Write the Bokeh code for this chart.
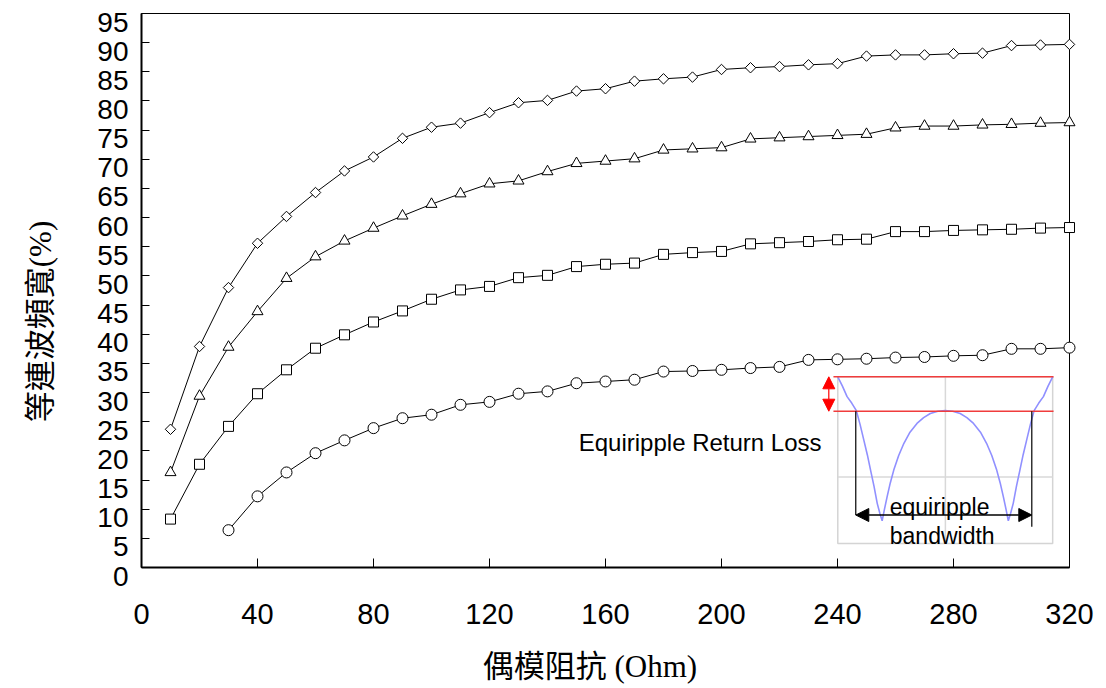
import numpy as np
from bokeh.plotting import figure
from bokeh.models import Range1d, FixedTicker, Arrow, NormalHead
from bokeh.core.properties import value
from bokeh.embed import file_html
from bokeh.resources import INLINE

# ---------------- data ----------------
impedance = [10, 20, 30, 40, 50, 60, 70, 80, 90, 100, 110, 120, 130, 140, 150, 160,
             170, 180, 190, 200, 210, 220, 230, 240, 250, 260, 270, 280, 290, 300, 310, 320]

bw_diamond = [23.7, 37.9, 48.0, 55.6, 60.2, 64.3, 68.0, 70.4, 73.6, 75.5, 76.2, 78.0,
              79.7, 80.1, 81.7, 82.1, 83.4, 83.8, 84.1, 85.4, 85.7, 85.9, 86.2, 86.4,
              87.7, 87.9, 87.9, 88.1, 88.2, 89.5, 89.6, 89.7]

bw_triangle = [16.3, 29.4, 37.8, 43.9, 49.6, 53.3, 56.0, 58.2, 60.3, 62.3, 64.1, 65.8,
               66.3, 67.9, 69.3, 69.7, 70.1, 71.6, 71.8, 72.0, 73.5, 73.7, 73.9, 74.1,
               74.3, 75.4, 75.7, 75.7, 75.9, 76.0, 76.2, 76.3]

bw_square = [8.3, 17.7, 24.2, 29.8, 33.9, 37.6, 39.9, 42.1, 44.0, 46.0, 47.6, 48.2,
             49.7, 50.1, 51.6, 52.0, 52.2, 53.7, 54.0, 54.2, 55.5, 55.7, 55.9, 56.2,
             56.3, 57.6, 57.6, 57.8, 57.9, 58.0, 58.2, 58.3]

bw_circle = [np.nan, np.nan, 6.4, 12.2, 16.3, 19.6, 21.8, 23.9, 25.6, 26.2, 27.9, 28.4,
             29.8, 30.2, 31.6, 31.9, 32.2, 33.6, 33.7, 33.9, 34.2, 34.4, 35.6, 35.7,
             35.8, 36.0, 36.1, 36.3, 36.4, 37.5, 37.5, 37.7]

x_ticks = [0, 40, 80, 120, 160, 200, 240, 280, 320]
y_ticks = list(range(0, 96, 5))
y_tick_labels = [str(t) for t in y_ticks]

x_title = "偶模阻抗 (Ohm)"
y_title = "等連波頻寬(%)"

# inset sketch (equiripple return-loss illustration), in chart data units
inset_box_x = [240.1, 314.2]
inset_box_y = [4.1, 32.7]
inset_grid_x = 277.2
inset_grid_y = 15.5
curve_x = [240.1, 241.7, 243.3, 244.9, 246.5, 247.8, 249.1, 250.3, 251.4, 252.6, 253.7,
           254.6, 255.4, 256.2, 257.1, 258.2, 259.4, 261.1, 262.9, 265.0, 267.4, 269.7,
           272.0, 274.6, 277.15, 279.7, 282.3, 284.6, 286.9, 289.3, 291.4, 293.2, 294.9,
           296.1, 297.2, 298.1, 298.9, 299.7, 300.6, 301.7, 302.9, 304.0, 305.2, 306.5,
           307.8, 309.4, 311.0, 312.6, 314.2]
curve_y = [32.7, 31.1, 29.3, 28.2, 26.9, 24.5, 21.8, 19.3, 16.7, 13.9, 11.0, 9.3, 8.0,
           10.0, 12.1, 14.5, 16.7, 19.2, 21.3, 23.2, 24.7, 25.7, 26.4, 26.8, 26.9, 26.8,
           26.4, 25.7, 24.7, 23.2, 21.3, 19.2, 16.7, 14.5, 12.1, 10.0, 8.0, 9.3, 11.0,
           13.9, 16.7, 19.3, 21.8, 24.5, 26.9, 28.2, 29.3, 31.1, 32.7]
ripple_top = 32.7
ripple_low = 26.8
band_left, band_right = 246.3, 307.0

# ---------------- figure ----------------
p = figure(width=1106, height=688, output_backend="svg", toolbar_location=None,
           x_range=Range1d(0, 320), y_range=Range1d(0, 95),
           min_border_left=141, min_border_right=37, min_border_top=13,
           min_border_bottom=121)
p.grid.visible = False
p.background_fill_color = "white"
p.border_fill_color = "white"
p.outline_line_color = "black"
p.outline_line_width = 1

tick_font = "Liberation Sans"
title_font = "'Liberation Serif', 'Noto Sans CJK TC'"

for ax in (p.xaxis[0], p.yaxis[0]):
    ax.axis_line_color = "black"
    ax.axis_line_width = 2
    ax.major_tick_line_color = "black"
    ax.major_tick_line_width = 1
    ax.major_tick_out = 0
    ax.minor_tick_in = 0
    ax.minor_tick_out = 0
    ax.major_label_text_font = tick_font
    ax.major_label_text_color = "black"
    ax.axis_label_text_font = title_font
    ax.axis_label_text_font_style = "normal"
    ax.axis_label_text_color = "black"
    ax.axis_label_text_font_size = "31px"

p.xaxis.ticker = FixedTicker(ticks=x_ticks)
p.yaxis.ticker = FixedTicker(ticks=y_ticks)
p.xaxis.major_tick_in = 9
p.yaxis.major_tick_in = 8
p.xaxis.major_label_text_font_size = "29px"
p.xaxis.major_label_standoff = 36
p.xaxis.axis_label = x_title + "\u3000"
p.xaxis.axis_label_standoff = 22

# y tick labels sit slightly below their ticks in the reference: drawn as text
# positioned through the y scale, offset a few pixels
p.yaxis.major_label_overrides = {t: "" for t in y_ticks}
p.yaxis.major_label_standoff = 12
p.yaxis.axis_label = y_title + "\u3000\u3000"
p.yaxis.axis_label_standoff = 84

p.text(x=[0] * len(y_ticks), y=y_ticks, text=y_tick_labels, x_offset=-13, y_offset=8.5,
       text_align="right", text_baseline="middle", text_font=value(tick_font),
       text_font_size="28px", text_color="black", level="overlay")

# ---------------- inset illustration ----------------
p.quad(left=inset_box_x[0], right=inset_box_x[1], bottom=inset_box_y[0], top=inset_box_y[1],
       fill_color="white", line_color="#d4d4d4", line_width=1.5)
p.segment(x0=[inset_grid_x, inset_box_x[0]], y0=[inset_box_y[0], inset_grid_y],
          x1=[inset_grid_x, inset_box_x[1]], y1=[inset_box_y[1], inset_grid_y],
          line_color="#d8d8d8", line_width=1.5)
p.line(curve_x, curve_y, line_color="#9090ff", line_width=1.6)
p.segment(x0=[238.6, 238.6], y0=[ripple_top, ripple_low], x1=[314.5, 314.5],
          y1=[ripple_top, ripple_low], line_color="#f03c3c", line_width=1.5)
p.segment(x0=[band_left, band_right], y0=[ripple_low, ripple_low],
          x1=[band_left, band_right], y1=[9.0, 7.0], line_color="black", line_width=1.2)
p.add_layout(Arrow(x_start=237.0, y_start=ripple_low, x_end=237.0, y_end=ripple_top,
                   line_color="red", line_width=1.2,
                   start=NormalHead(size=12, fill_color="red", line_color="red"),
                   end=NormalHead(size=12, fill_color="red", line_color="red")))
p.add_layout(Arrow(x_start=band_left, y_start=9.0, x_end=band_right, y_end=9.0,
                   line_color="black", line_width=1.5,
                   start=NormalHead(size=13, fill_color="black", line_color="black"),
                   end=NormalHead(size=13, fill_color="black", line_color="black")))
p.text(x=[234.5], y=[21.4], text=["Equiripple Return Loss"], text_font=value(tick_font),
       text_font_size="24px", text_align="right", text_baseline="middle", text_color="black")
p.text(x=[275.2, 276.1], y=[10.4, 5.4], text=["equiripple", "bandwidth"],
       text_font=value(tick_font), text_font_size="23px", text_align="center",
       text_baseline="middle", text_color="black")

# ---------------- data series ----------------
series = [
    (bw_diamond, dict(marker="square", size=7.4, angle=np.pi / 4)),
    (bw_triangle, dict(marker="triangle", size=11)),
    (bw_square, dict(marker="square", size=10)),
    (bw_circle, dict(marker="circle", size=11)),
]
for vals, mk in series:
    p.line(impedance, vals, line_color="black", line_width=1, level="overlay")
for vals, mk in series:
    p.scatter(impedance, vals, fill_color="white", line_color="black", line_width=1,
              level="overlay", **mk)

open("out.html", "w").write(file_html(p, INLINE))
